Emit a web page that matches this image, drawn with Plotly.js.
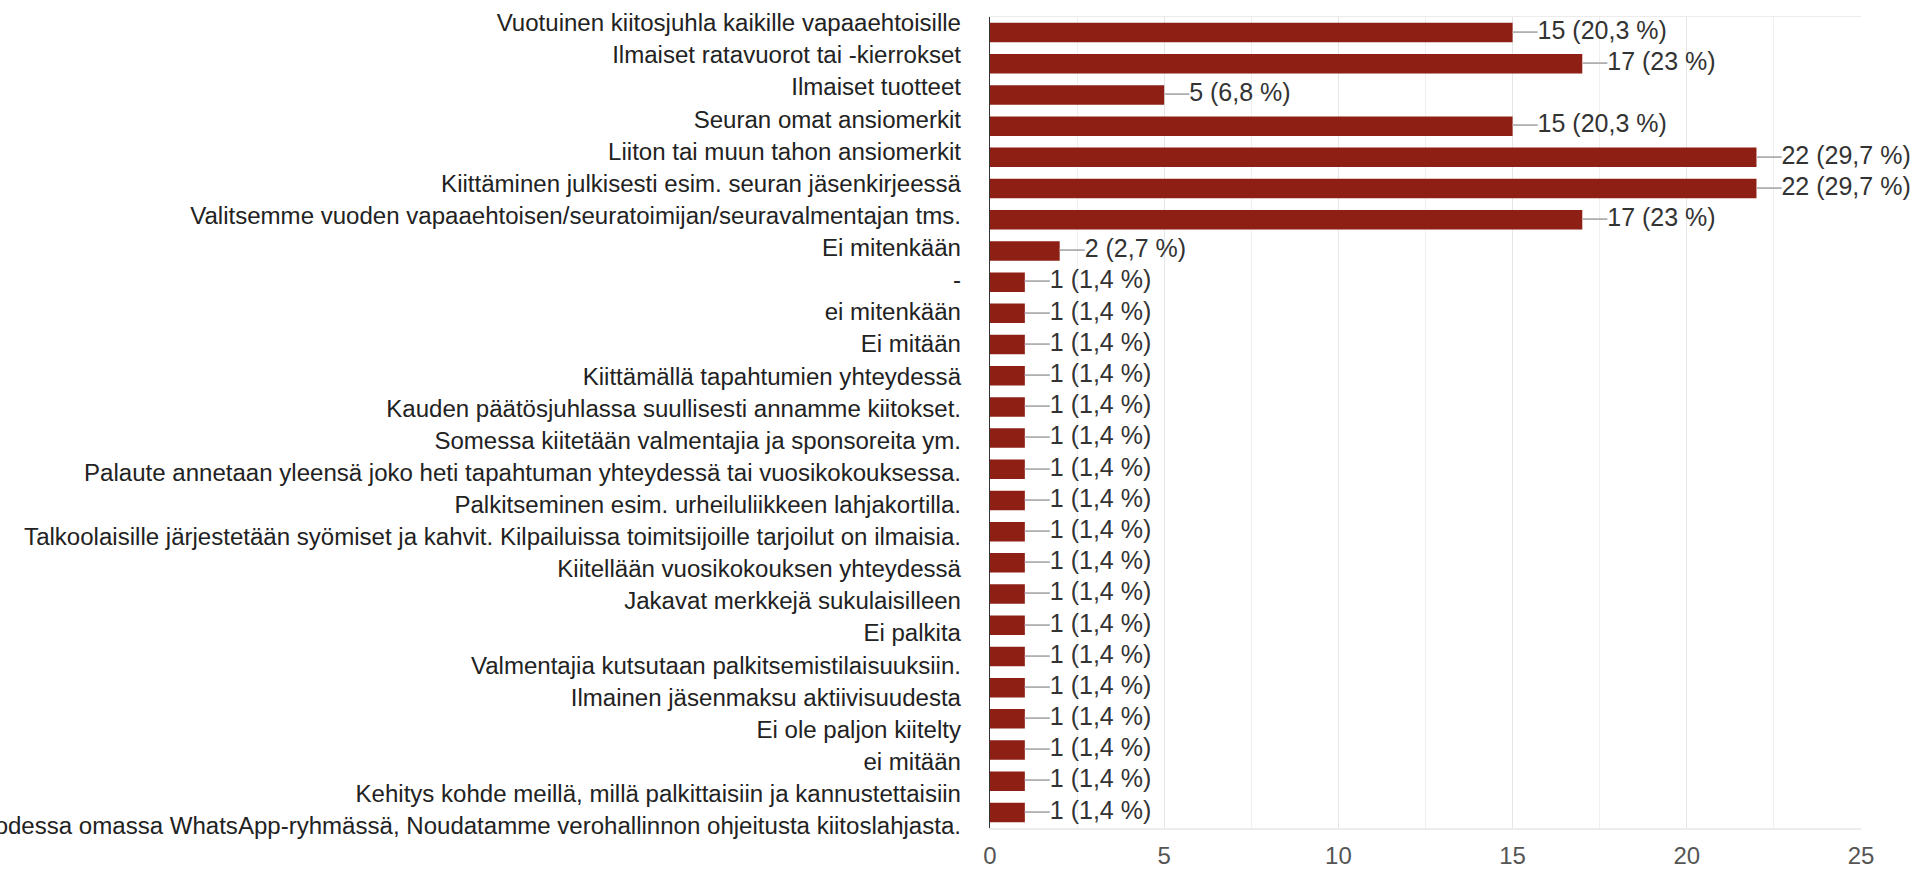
<!DOCTYPE html>
<html>
<head>
<meta charset="utf-8">
<script src="https://cdn.plot.ly/plotly-3.0.1.min.js"></script>
<style>html,body{margin:0;padding:0;background:#fff;}#chart{width:1916px;height:870px;}</style>
</head>
<body>
<div id="chart"></div>
<script>
var categories = [
  "Vuotuinen kiitosjuhla kaikille vapaaehtoisille",
  "Ilmaiset ratavuorot tai -kierrokset",
  "Ilmaiset tuotteet",
  "Seuran omat ansiomerkit",
  "Liiton tai muun tahon ansiomerkit",
  "Kiittäminen julkisesti esim. seuran jäsenkirjeessä",
  "Valitsemme vuoden vapaaehtoisen/seuratoimijan/seuravalmentajan tms.",
  "Ei mitenkään",
  "-",
  "ei mitenkään",
  "Ei mitään",
  "Kiittämällä tapahtumien yhteydessä",
  "Kauden päätösjuhlassa suullisesti annamme kiitokset.",
  "Somessa kiitetään valmentajia ja sponsoreita ym.",
  "Palaute annetaan yleensä joko heti tapahtuman yhteydessä tai vuosikokouksessa.",
  "Palkitseminen esim. urheiluliikkeen lahjakortilla.",
  "Talkoolaisille järjestetään syömiset ja kahvit. Kilpailuissa toimitsijoille tarjoilut on ilmaisia.",
  "Kiitellään vuosikokouksen yhteydessä",
  "Jakavat merkkejä sukulaisilleen",
  "Ei palkita",
  "Valmentajia kutsutaan palkitsemistilaisuuksiin.",
  "Ilmainen jäsenmaksu aktiivisuudesta",
  "Ei ole paljon kiitelty",
  "ei mitään",
  "Kehitys kohde meillä, millä palkittaisiin ja kannustettaisiin",
  "odessa omassa WhatsApp-ryhmässä, Noudatamme verohallinnon ohjeitusta kiitoslahjasta."
];
var counts = [15, 17, 5, 15, 22, 22, 17, 2, 1, 1, 1, 1, 1, 1, 1, 1, 1, 1, 1, 1, 1, 1, 1, 1, 1, 1];
var percents = ["20,3", "23", "6,8", "20,3", "29,7", "29,7", "23", "2,7", "1,4", "1,4", "1,4", "1,4", "1,4",
  "1,4", "1,4", "1,4", "1,4", "1,4", "1,4", "1,4", "1,4", "1,4", "1,4", "1,4", "1,4", "1,4"];
var xTicks = [0, 5, 10, 15, 20, 25];

var labels = counts.map(function (c, i) {
  return '<span style="color:#b0b0b0">\u2014</span>' + c + ' (' + percents[i] + ' %)';
});

var bars = {
  type: 'bar', orientation: 'h',
  x: counts, y: categories,
  marker: {color: '#8d1f14', line: {width: 0}},
  hoverinfo: 'skip', showlegend: false
};
var texts = {
  type: 'scatter', mode: 'text',
  x: counts, y: categories, text: labels,
  textposition: 'middle right',
  textfont: {family: 'Liberation Sans, Arial, sans-serif', size: 25, color: '#333333'},
  cliponaxis: false, hoverinfo: 'skip', showlegend: false
};
var labelCarrier = {
  type: 'scatter', mode: 'markers',
  x: counts, y: categories, yaxis: 'y2',
  marker: {opacity: 0, size: 1},
  hoverinfo: 'skip', showlegend: false
};

var layout = {
  width: 1916, height: 870,
  margin: {l: 990, r: 55, t: 17, b: 42, pad: 0},
  paper_bgcolor: '#ffffff', plot_bgcolor: '#ffffff',
  font: {family: 'Liberation Sans, Arial, sans-serif'},
  bargap: 0.375,
  showlegend: false,
  xaxis: {
    range: [0, 25], tickvals: xTicks, ticktext: xTicks.map(String),
    showgrid: true, gridcolor: '#e6e6e6', gridwidth: 1,
    minor: {dtick: 2.5, tick0: 0, showgrid: true, gridcolor: '#efefef', gridwidth: 1},
    zeroline: false, showline: true, mirror: true, linecolor: '#ececec', linewidth: 1.5,
    ticks: '', ticklabelstandoff: 6,
    tickfont: {size: 24, color: '#555555'},
    fixedrange: true
  },
  yaxis: {
    type: 'category', categoryorder: 'array', categoryarray: categories,
    range: [25.5, -0.5],
    showticklabels: false, showgrid: false, zeroline: false,
    showline: true, linecolor: '#333333', linewidth: 1.5, ticks: '',
    fixedrange: true
  },
  yaxis2: {
    type: 'category', categoryorder: 'array', categoryarray: categories,
    overlaying: 'y', side: 'left',
    range: [25.07, -0.18],
    showgrid: false, zeroline: false, showline: false, ticks: '',
    ticklabelstandoff: 28,
    tickfont: {size: 24.05, color: '#222222'},
    fixedrange: true
  }
};

Plotly.newPlot('chart', [bars, texts, labelCarrier], layout, {displayModeBar: false, staticPlot: true});
</script>
</body>
</html>
